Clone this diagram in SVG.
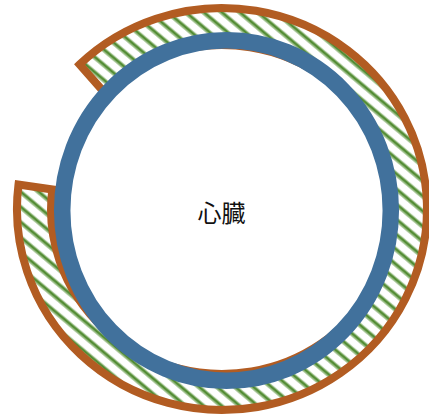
<svg xmlns="http://www.w3.org/2000/svg" width="429" height="419" viewBox="0 0 429 419">
  <defs>
    <pattern id="hatch" patternUnits="userSpaceOnUse" width="20" height="11.6" patternTransform="rotate(40)">
      <rect x="0" y="0" width="20" height="11.6" fill="#ffffff"/>
      <rect x="0" y="3.8" width="20" height="1.1" fill="#A8C797"/>
      <rect x="0" y="4.9" width="20" height="2.6" fill="#4F8A2F"/>
      <rect x="0" y="7.5" width="20" height="1.1" fill="#A8C797"/>
    </pattern>
    <style>
      .band { fill: url(#hatch); stroke: #B25C22; stroke-width: 8; stroke-linejoin: miter; }
      .ring { fill: none; stroke: #41719C; stroke-width: 16.5; }
      .label { font-family: "Noto Sans CJK JP", "Noto Sans CJK SC", sans-serif; font-size: 24px; fill: #111111; text-anchor: middle; dominant-baseline: central; }
    </style>
  </defs>
  <g id="band">
    <path class="band" d="M 79.6 64.4 A 205 201 0 1 1 18.5 184.5 L 52.3 189.5 A 171 164.5 0 1 0 103.2 91.2 Z"/>
  </g>
  <g id="heart">
    <ellipse class="ring" cx="226.5" cy="210.5" rx="164.3" ry="170.2"/>
    <text class="label" x="221.5" y="211.5">心臓</text>
  </g>
  <g id="connectors"></g>
</svg>
